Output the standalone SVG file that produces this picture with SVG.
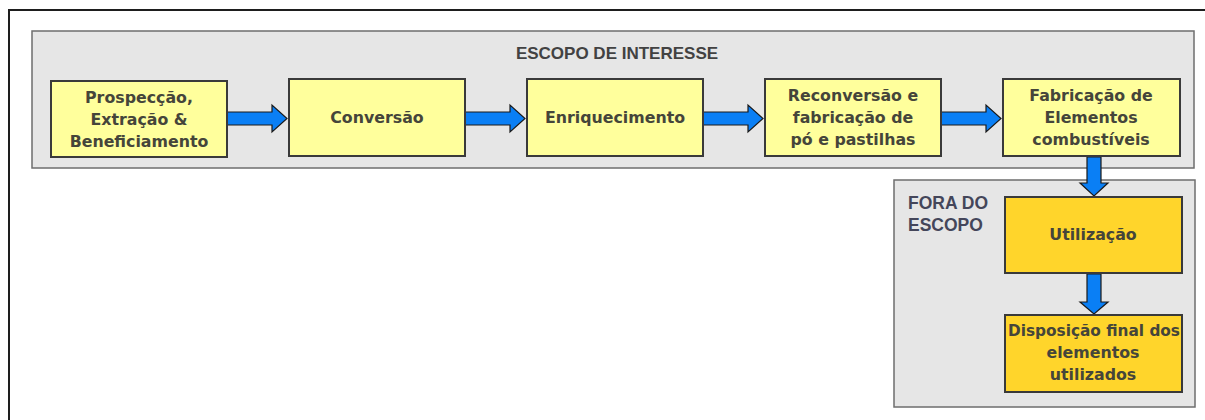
<svg xmlns="http://www.w3.org/2000/svg" width="1205" height="420" viewBox="0 0 1205 420">
<style>
.frame{fill:none;stroke:#1e1e1e;stroke-width:2}
.zone{fill:#e6e6e6;stroke:#6e6e6e;stroke-width:1.5}
.lt{fill:#ffff9c;stroke:#3a3a3a;stroke-width:2}
.dk{fill:#ffd52b;stroke:#3a3a3a;stroke-width:2}
.t{font-family:"DejaVu Sans",Verdana,sans-serif;font-weight:bold;font-size:15.8px;fill:#45453a;text-anchor:middle}
.hd{font-family:"Liberation Sans",Arial,sans-serif;font-weight:bold;font-size:17px;fill:#424242;text-anchor:middle}
.lbl{font-family:"Liberation Sans",Arial,sans-serif;font-weight:bold;font-size:17.5px;fill:#44465a}
.arr{fill:#0a7ff5;stroke:#1a1a1a;stroke-width:1.2;stroke-linejoin:miter}
</style>
<rect x="0" y="0" width="1205" height="420" fill="#ffffff"/>
<rect class="frame" x="9" y="10" width="1220" height="430"/>
<g id="scope">
<rect class="zone" x="32" y="31" width="1162" height="137"/>
<text class="hd" x="617" y="59">ESCOPO DE INTERESSE</text>
</g>
<g id="outscope">
<rect class="zone" x="894" y="180" width="301" height="227"/>
<text class="lbl" x="908" y="209">FORA DO</text>
<text class="lbl" x="908" y="231">ESCOPO</text>
</g>
<g id="connectors">
<path class="arr" d="M227,112 H272 V105 L287,118.5 L272,132 V125 H227 Z"/>
<path class="arr" d="M465,112 H510 V105 L525,118.5 L510,132 V125 H465 Z"/>
<path class="arr" d="M703,112 H748 V105 L763,118.5 L748,132 V125 H703 Z"/>
<path class="arr" d="M941,112 H986 V105 L1001,118.5 L986,132 V125 H941 Z"/>
<path class="arr" d="M1087,157 V183 H1080 L1094,196 L1108,183 H1101 V157 Z"/>
<path class="arr" d="M1087,274 V302 H1080 L1094,314 L1108,302 H1101 V274 Z"/>
</g>
<g id="n1">
<rect class="lt" x="51" y="81" width="176" height="76"/>
<text class="t" x="139" y="103">Prospecção,</text>
<text class="t" x="139" y="125">Extração &amp;</text>
<text class="t" x="139" y="147">Beneficiamento</text>
</g>
<g id="n2">
<rect class="lt" x="289" y="79" width="176" height="77"/>
<text class="t" x="377" y="123">Conversão</text>
</g>
<g id="n3">
<rect class="lt" x="527" y="79" width="176" height="77"/>
<text class="t" x="615" y="123">Enriquecimento</text>
</g>
<g id="n4">
<rect class="lt" x="765" y="79" width="176" height="77"/>
<text class="t" x="853" y="101">Reconversão e</text>
<text class="t" x="853" y="123">fabricação de</text>
<text class="t" x="853" y="145">pó e pastilhas</text>
</g>
<g id="n5">
<rect class="lt" x="1003" y="79" width="177" height="77"/>
<text class="t" x="1091" y="101">Fabricação de</text>
<text class="t" x="1091" y="123">Elementos</text>
<text class="t" x="1091" y="145">combustíveis</text>
</g>
<g id="n6">
<rect class="dk" x="1005" y="197" width="177" height="76"/>
<text class="t" x="1093" y="240">Utilização</text>
</g>
<g id="n7">
<rect class="dk" x="1005" y="315" width="177" height="77"/>
<text class="t" x="1094" y="336" textLength="172" lengthAdjust="spacingAndGlyphs">Disposição final dos</text>
<text class="t" x="1093" y="358">elementos</text>
<text class="t" x="1093" y="380">utilizados</text>
</g>
</svg>
